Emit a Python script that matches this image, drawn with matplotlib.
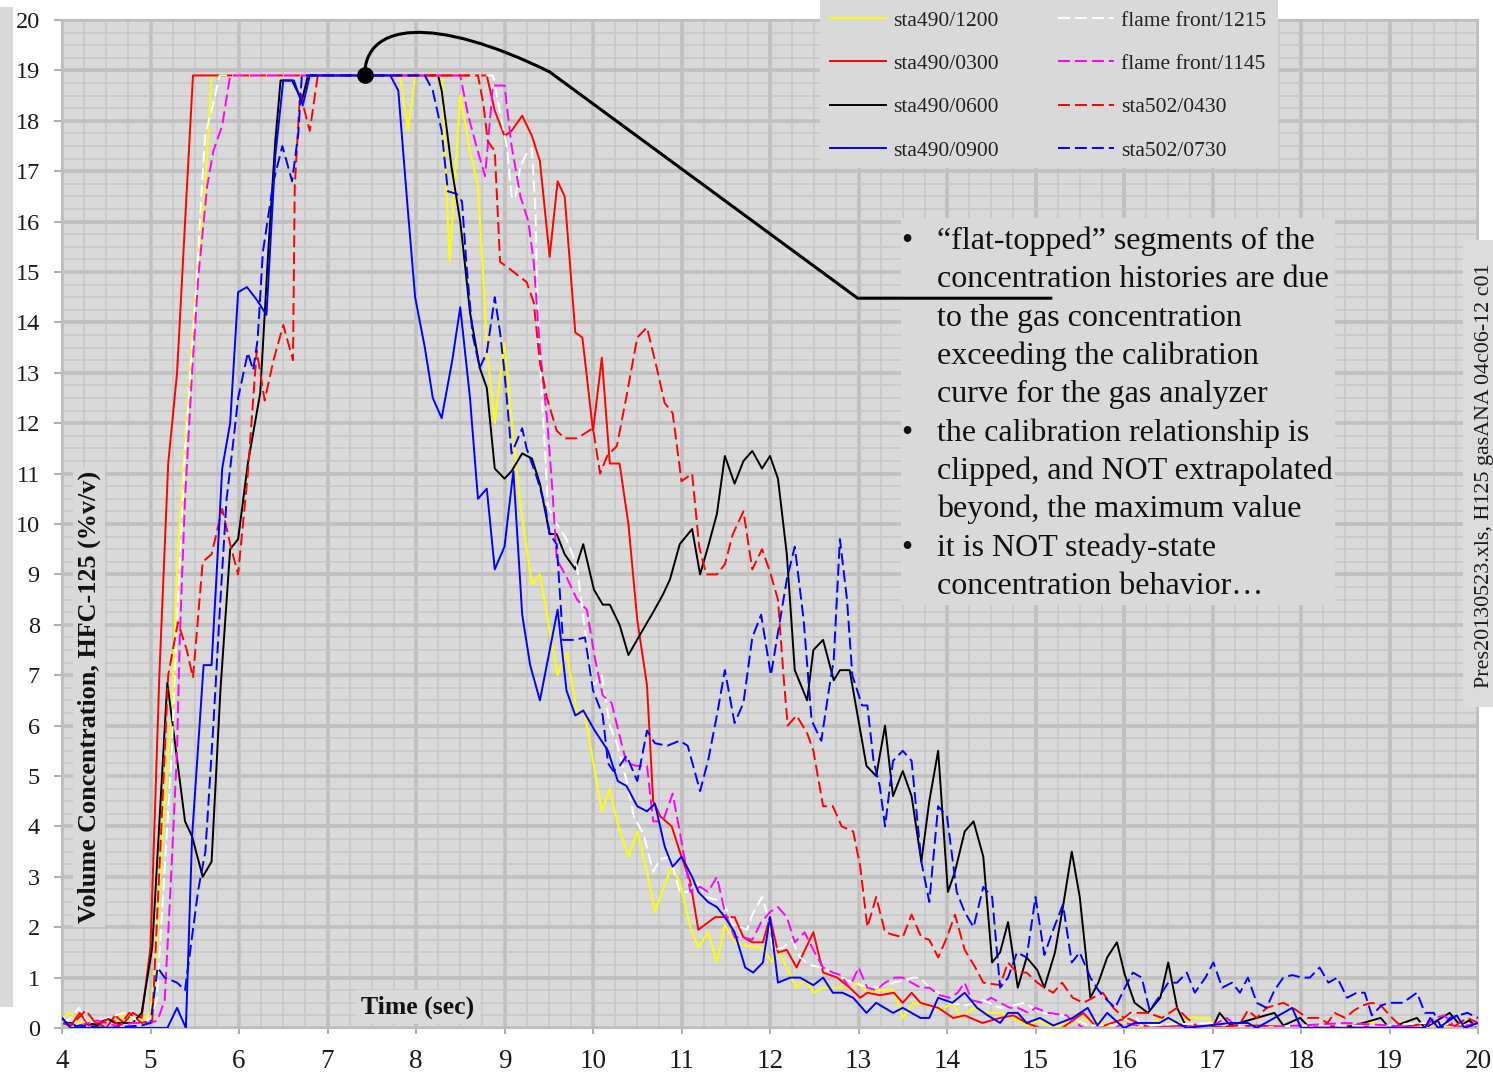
import numpy as np
import matplotlib
matplotlib.use('Agg')
import matplotlib.pyplot as plt
from matplotlib.patches import Rectangle, PathPatch
from matplotlib.path import Path

plt.rcParams['font.family'] = ['Liberation Serif', 'DejaVu Serif']
plt.rcParams['lines.scale_dashes'] = False

# ---------------- data (time s, concentration %v/v) ----------------
sta490_1200 = [(4.0,0.2),(4.1,0.3),(4.2,0.1),(4.3,0.15),(4.4,0.05),(4.5,0.2),(4.6,0.1),(4.7,0.3),(4.8,0.1),(4.9,0.15),
    (5.0,0.3),(5.07,1.65),(5.14,4.0),(5.24,6.3),(5.31,9.5),(5.41,12.2),(5.5,14.4),(5.62,16.7),(5.69,18.9),
    (7.82,18.9),(7.91,17.8),(7.99,18.9),(8.29,18.9),(8.38,15.2),(8.5,18.5),(8.61,17.4),(8.7,16.7),(8.75,15.2),
    (8.8,13.5),(8.89,12.0),(9.0,13.6),(9.08,12.1),(9.18,10.35),(9.31,8.8),(9.4,9.0),(9.49,8.1),(9.6,7.0),(9.7,7.45),
    (9.82,6.25),(9.9,6.3),(9.99,5.4),(10.1,4.3),(10.19,4.75),(10.28,4.05),(10.4,3.4),(10.5,3.9),(10.61,3.1),(10.7,2.3),
    (10.79,2.75),(10.89,3.2),(10.98,2.9),(11.1,2.0),(11.19,1.6),(11.3,1.9),(11.4,1.3),(11.49,2.05),(11.6,1.7),(11.7,1.65),
    (11.8,1.6),(11.92,1.6),(12.02,1.3),(12.09,1.55),(12.19,1.2),(12.3,0.8),(12.39,0.95),(12.5,0.7),(12.6,0.8),(12.76,0.8),
    (12.9,0.8),(13.0,0.9),(13.1,0.7),(13.24,0.75),(13.4,0.75),(13.5,0.2),(13.62,0.5),(13.8,0.45),(13.92,0.35),(14.07,0.5),
    (14.15,0.2),(14.3,0.4),(14.45,0.3),(14.6,0.3),(14.75,0.2),(14.9,0.05),(15.05,0.15),(15.2,0.0),(15.35,0.1),(15.5,0.15),
    (15.65,0.2),(15.8,0.05),(16.0,0.1),(16.2,0.0),(16.41,0.2),(16.6,0.1),(16.74,0.2),(16.82,0.2),(16.94,0.2),(17.05,0.0),
    (17.3,0.0),(17.6,0.05),(18.0,0.0),(18.4,0.0),(18.8,0.1),(19.0,0.0),(19.17,0.1),(19.4,0.0),(19.7,0.05),(20.0,0.0)]

sta490_0300 = [(4.0,0.1),(4.1,0.05),(4.2,0.3),(4.3,0.05),(4.4,0.1),(4.5,0.0),(4.6,0.25),(4.7,0.1),(4.8,0.3),(4.9,0.2),
    (5.0,1.6),(5.1,7.0),(5.2,11.2),(5.3,13.0),(5.4,16.3),(5.48,18.9),(8.8,18.9),(8.89,18.2),(9.0,17.7),(9.08,17.8),
    (9.2,18.1),(9.31,17.7),(9.4,17.2),(9.51,15.3),(9.6,16.8),(9.68,16.5),(9.8,13.8),(9.88,13.7),(10.0,11.85),(10.1,13.3),
    (10.19,11.2),(10.3,11.2),(10.4,10.0),(10.5,8.1),(10.61,6.8),(10.68,4.5),(10.76,4.2),(10.89,4.0),(10.98,3.5),(11.1,2.9),
    (11.19,1.95),(11.38,2.2),(11.6,2.2),(11.7,1.8),(11.8,1.7),(11.92,1.7),(12.0,2.2),(12.09,1.5),(12.19,1.55),(12.3,1.2),
    (12.49,1.9),(12.6,1.1),(12.76,1.0),(12.9,0.8),(13.02,0.6),(13.1,0.7),(13.24,0.65),(13.4,0.7),(13.5,0.5),(13.6,0.7),
    (13.7,0.5),(13.9,0.4),(14.07,0.2),(14.2,0.25),(14.4,0.1),(14.6,0.2),(14.75,0.25),(14.9,0.1),(15.05,0.0),(15.3,0.0),
    (15.54,0.3),(15.7,0.0),(16.03,0.2),(16.3,0.0),(16.6,0.05),(17.0,0.0),(17.5,0.05),(18.0,0.0),(18.5,0.05),(19.0,0.0),
    (19.5,0.1),(20.0,0.0)]

sta490_0600 = [(4.0,0.1),(4.1,0.1),(4.2,0.0),(4.3,0.1),(4.4,0.05),(4.5,0.2),(4.6,0.1),(4.7,0.1),(4.8,0.1),(4.9,0.3),
    (5.02,1.6),(5.19,6.85),(5.39,4.1),(5.47,3.8),(5.59,3.0),(5.69,3.3),(5.79,6.7),(5.9,9.5),(5.99,9.7),(6.1,11.2),
    (6.24,12.6),(6.33,15.4),(6.41,17.6),(6.47,18.8),(6.6,18.8),(6.71,18.4),(6.78,18.9),(8.25,18.9),(8.29,18.6),(8.35,17.8),
    (8.4,17.1),(8.5,16.0),(8.55,15.2),(8.61,14.2),(8.72,13.1),(8.8,12.7),(8.89,11.1),(9.0,10.9),(9.08,11.05),(9.2,11.4),
    (9.31,11.3),(9.4,10.8),(9.51,9.8),(9.59,9.8),(9.68,9.4),(9.8,9.1),(9.89,9.6),(10.01,8.7),(10.11,8.4),(10.19,8.4),
    (10.3,8.0),(10.4,7.4),(10.53,7.8),(10.68,8.25),(10.79,8.6),(10.87,8.9),(10.98,9.6),(11.12,9.9),(11.21,9.0),(11.3,9.55),
    (11.4,10.2),(11.49,11.35),(11.6,10.8),(11.7,11.25),(11.8,11.45),(11.91,11.1),(12.0,11.35),(12.09,10.9),(12.19,9.4),
    (12.28,7.1),(12.42,6.5),(12.49,7.5),(12.6,7.7),(12.72,6.9),(12.79,7.1),(12.9,7.1),(13.09,5.2),(13.2,5.0),(13.3,6.0),
    (13.39,4.6),(13.5,5.1),(13.6,4.6),(13.71,3.3),(13.8,4.5),(13.9,5.5),(14.01,2.7),(14.09,3.1),(14.2,3.9),(14.3,4.1),
    (14.41,3.4),(14.51,1.3),(14.6,1.5),(14.69,2.1),(14.8,0.8),(14.9,1.4),(15.02,1.15),(15.1,0.8),(15.22,1.5),(15.31,2.4),
    (15.41,3.5),(15.5,2.6),(15.62,0.6),(15.71,0.9),(15.81,1.4),(15.92,1.7),(16.01,1.05),(16.12,0.5),(16.27,0.3),(16.41,0.6),
    (16.5,1.3),(16.6,0.4),(16.71,0.0),(17.0,0.0),(17.08,0.3),(17.2,0.05),(17.5,0.2),(17.7,0.3),(17.8,0.05),(17.99,0.2),
    (18.1,0.0),(18.5,0.0),(18.9,0.2),(19.0,0.0),(19.31,0.2),(19.4,0.0),(19.68,0.3),(19.8,0.05),(19.9,0.15),(20.0,0.0)]

sta490_0900 = [(4.0,0.2),(4.1,0.0),(5.19,0.0),(5.3,0.4),(5.4,0.0),(5.47,3.8),(5.6,7.2),(5.69,7.2),(5.75,9.1),(5.81,11.1),
    (5.9,12.0),(5.99,14.6),(6.09,14.7),(6.2,14.45),(6.31,14.15),(6.41,17.3),(6.5,18.8),(6.62,18.8),(6.72,18.3),(6.8,18.9),
    (7.71,18.9),(7.8,18.6),(7.9,16.4),(7.99,14.5),(8.1,13.5),(8.19,12.5),(8.29,12.1),(8.41,13.25),(8.5,14.3),(8.61,12.5),
    (8.7,10.5),(8.8,10.7),(8.89,9.1),(9.0,9.55),(9.1,11.05),(9.2,8.2),(9.29,7.2),(9.4,6.5),(9.6,8.3),(9.7,6.7),(9.8,6.2),
    (9.89,6.3),(10.02,5.9),(10.17,5.5),(10.28,4.9),(10.38,4.8),(10.5,4.4),(10.61,4.3),(10.7,4.45),(10.81,3.6),(10.9,3.2),
    (11.0,3.4),(11.12,3.0),(11.19,2.7),(11.3,2.5),(11.4,2.4),(11.49,2.2),(11.6,1.9),(11.72,1.2),(11.81,1.1),(11.92,1.3),
    (12.0,2.2),(12.09,0.9),(12.23,1.0),(12.34,1.0),(12.49,0.85),(12.6,1.0),(12.71,0.7),(12.82,0.7),(12.94,0.6),(13.09,0.3),
    (13.2,0.5),(13.39,0.3),(13.5,0.4),(13.7,0.2),(13.8,0.2),(13.9,0.6),(14.06,0.5),(14.2,0.7),(14.34,0.4),(14.46,0.25),
    (14.6,0.1),(14.69,0.3),(14.8,0.3),(14.9,0.1),(15.05,0.2),(15.2,0.05),(15.42,0.2),(15.59,0.4),(15.7,0.05),(15.81,0.3),
    (16.0,0.0),(16.12,0.1),(16.4,0.1),(16.5,0.2),(16.71,0.0),(17.2,0.1),(17.4,0.1),(17.5,0.0),(17.9,0.4),(18.0,0.0),
    (19.4,0.0),(19.46,0.2),(19.55,0.0),(19.76,0.25),(19.85,0.0),(20.0,0.1)]

flame_1215 = [(4.0,0.1),(4.1,0.2),(4.19,0.4),(4.3,0.1),(4.5,0.2),(4.7,0.3),(4.9,0.1),(5.0,0.2),(5.07,0.55),(5.14,2.55),
    (5.24,5.5),(5.31,8.5),(5.39,11.45),(5.47,13.45),(5.54,15.4),(5.58,16.7),(5.62,17.75),(5.69,18.2),(5.78,18.9),(8.87,18.9),
    (8.98,17.9),(9.03,17.45),(9.08,16.5),(9.12,16.45),(9.18,17.1),(9.25,17.35),(9.31,17.45),(9.35,16.2),(9.37,14.6),(9.4,13.2),
    (9.46,11.4),(9.49,10.35),(9.59,10.0),(9.7,9.7),(9.82,9.15),(9.9,8.0),(10.0,6.8),(10.1,7.0),(10.19,6.0),(10.27,5.65),
    (10.38,4.9),(10.46,4.2),(10.57,3.85),(10.68,3.1),(10.76,3.35),(10.87,3.4),(10.98,2.7),(11.07,2.7),(11.17,2.9),(11.28,2.6),
    (11.47,2.5),(11.58,2.05),(11.74,1.95),(11.8,2.25),(11.91,2.6),(11.98,2.2),(12.03,1.55),(12.15,1.6),(12.25,1.75),(12.34,1.4),
    (12.45,1.25),(12.58,1.2),(12.71,1.1),(12.87,0.95),(13.02,0.85),(13.2,0.8),(13.4,0.9),(13.62,1.0),(13.7,1.0),(13.8,0.8),
    (13.9,0.7),(14.03,0.5),(14.22,0.45),(14.41,0.55),(14.6,0.4),(14.75,0.45),(14.88,0.5),(15.05,0.3),(15.3,0.25),(15.42,0.2),
    (15.6,0.05),(15.9,0.05),(16.03,0.2),(16.1,0.3),(16.2,0.05),(17.0,0.1),(17.5,0.0),(18.0,0.05),(19.0,0.05),(19.4,0.1),(20.0,0.05)]

flame_1145 = [(4.0,0.1),(4.2,0.05),(4.4,0.15),(4.6,0.05),(4.8,0.1),(5.0,0.1),(5.08,0.15),(5.16,0.55),(5.22,2.55),(5.3,5.5),
    (5.33,7.7),(5.39,10.5),(5.47,13.0),(5.54,14.9),(5.64,16.7),(5.71,17.4),(5.81,17.9),(5.9,18.9),(8.5,18.9),(8.59,18.1),
    (8.69,17.45),(8.78,16.9),(8.87,18.7),(9.0,18.7),(9.08,17.5),(9.18,16.5),(9.27,16.0),(9.33,15.2),(9.4,13.5),(9.48,12.1),
    (9.54,10.7),(9.59,9.3),(9.7,8.95),(9.82,8.5),(9.93,8.3),(10.02,7.35),(10.11,6.6),(10.21,6.45),(10.3,5.8),(10.38,5.25),
    (10.5,5.2),(10.61,5.2),(10.68,4.1),(10.79,4.1),(10.9,4.65),(10.98,3.9),(11.1,2.7),(11.21,2.8),(11.3,2.7),(11.4,3.0),
    (11.49,2.3),(11.6,1.8),(11.7,1.8),(11.8,1.75),(11.9,2.1),(12.0,2.3),(12.09,2.4),(12.19,2.2),(12.28,1.7),(12.39,1.9),
    (12.49,1.55),(12.6,1.2),(12.71,1.1),(12.8,1.05),(12.9,0.8),(13.0,1.2),(13.1,0.8),(13.2,0.75),(13.3,0.9),(13.41,1.0),
    (13.5,1.0),(13.6,0.9),(13.7,0.8),(13.8,0.8),(13.92,0.65),(14.03,0.6),(14.12,0.7),(14.2,0.9),(14.28,0.55),(14.4,0.5),
    (14.5,0.6),(14.6,0.5),(14.71,0.4),(14.8,0.4),(14.92,0.3),(15.0,0.4),(15.15,0.3),(15.35,0.25),(15.45,0.1),(15.55,0.0),
    (15.9,0.0),(16.0,0.1),(16.3,0.0),(17.0,0.05),(17.16,0.2),(17.3,0.0),(18.0,0.05),(18.5,0.1),(19.0,0.05),(19.4,0.0),
    (19.5,0.2),(19.62,0.25),(19.75,0.0),(20.0,0.1)]

sta502_0430 = [(4.0,0.1),(4.1,0.05),(4.27,0.35),(4.4,0.05),(4.54,0.2),(4.65,0.05),(4.76,0.3),(4.9,0.1),(5.02,0.15),(5.11,3.5),
    (5.2,7.0),(5.31,8.05),(5.41,7.5),(5.48,6.95),(5.59,9.25),(5.69,9.4),(5.81,10.3),(5.9,9.6),(5.99,9.0),(6.1,11.0),
    (6.2,13.45),(6.29,12.45),(6.39,13.25),(6.5,13.95),(6.61,13.25),(6.63,16.7),(6.69,18.55),(6.8,17.8),(6.89,18.9),(8.7,18.9),
    (8.76,18.35),(8.81,17.6),(8.89,17.4),(8.95,15.2),(9.03,15.1),(9.14,14.95),(9.25,14.8),(9.33,14.4),(9.4,13.2),(9.48,12.5),
    (9.59,11.85),(9.68,11.7),(9.82,11.7),(10.0,11.9),(10.08,11.0),(10.16,11.35),(10.27,11.55),(10.38,12.55),(10.5,13.7),
    (10.61,13.9),(10.72,13.1),(10.81,12.4),(10.9,12.2),(11.0,10.85),(11.12,11.0),(11.2,9.55),(11.28,9.0),(11.4,9.0),
    (11.49,9.2),(11.58,9.8),(11.7,10.25),(11.8,9.1),(11.91,9.5),(12.0,9.05),(12.09,8.5),(12.15,7.05),(12.2,6.0),(12.3,6.2),
    (12.42,5.85),(12.49,5.5),(12.6,4.4),(12.71,4.4),(12.81,4.0),(12.94,3.9),(13.02,3.2),(13.1,2.0),(13.2,2.6),(13.3,1.9),
    (13.39,1.85),(13.5,1.8),(13.6,2.25),(13.71,1.8),(13.8,1.75),(13.9,1.4),(14.0,1.8),(14.09,2.25),(14.2,1.55),(14.32,1.2),
    (14.41,0.9),(14.6,0.85),(14.69,1.3),(14.79,1.1),(14.9,1.1),(15.02,0.9),(15.1,0.8),(15.2,0.7),(15.3,0.9),(15.42,0.6),
    (15.54,0.5),(15.65,0.6),(15.76,0.7),(15.88,0.4),(16.0,0.2),(16.07,0.3),(16.27,0.3),(16.43,0.2),(16.6,0.4),(16.71,0.2),
    (16.85,0.0),(17.3,0.05),(17.4,0.35),(17.5,0.2),(17.61,0.4),(17.8,0.5),(17.91,0.4),(18.07,0.2),(18.2,0.2),(18.3,0.1),
    (18.38,0.3),(18.5,0.2),(18.6,0.35),(18.7,0.45),(18.8,0.5),(18.9,0.45),(19.03,0.2),(19.15,0.0),(19.7,0.0),(19.88,0.2),(20.0,0.1)]

sta502_0730 = [(4.0,0.2),(4.1,0.0),(4.2,0.05),(4.5,0.0),(4.9,0.05),(5.0,0.1),(5.08,1.2),(5.16,1.0),(5.3,0.9),(5.39,0.75),
    (5.54,2.75),(5.62,3.5),(5.71,6.0),(5.79,8.5),(5.86,10.5),(5.94,11.7),(5.99,12.5),(6.1,13.4),(6.16,13.05),(6.21,13.65),
    (6.27,15.4),(6.33,16.1),(6.39,16.8),(6.49,17.5),(6.6,16.8),(6.67,17.75),(6.71,18.9),(8.1,18.9),(8.19,18.6),(8.29,17.8),
    (8.36,16.6),(8.46,16.55),(8.52,16.4),(8.57,15.15),(8.64,13.75),(8.72,13.1),(8.8,13.4),(8.89,14.5),(8.95,13.8),(9.0,13.0),
    (9.08,11.4),(9.2,11.9),(9.25,11.5),(9.37,10.9),(9.46,10.35),(9.51,9.8),(9.59,9.6),(9.66,7.7),(9.8,7.7),(9.91,7.75),
    (10.0,6.7),(10.11,6.2),(10.17,5.25),(10.23,5.1),(10.3,5.2),(10.38,5.4),(10.5,4.9),(10.61,5.9),(10.7,5.65),(10.84,5.6),
    (10.98,5.7),(11.07,5.6),(11.21,4.7),(11.3,5.3),(11.4,6.2),(11.49,7.1),(11.6,6.05),(11.7,6.45),(11.8,7.75),(11.9,8.2),
    (12.01,7.0),(12.1,7.95),(12.19,8.9),(12.28,9.55),(12.38,8.1),(12.47,6.1),(12.58,5.7),(12.66,6.65),(12.72,7.3),(12.79,9.7),
    (12.87,8.5),(12.93,7.0),(13.04,6.4),(13.1,6.4),(13.17,5.3),(13.24,4.8),(13.3,4.0),(13.39,5.3),(13.5,5.5),(13.6,5.3),
    (13.71,3.3),(13.8,2.5),(13.9,4.4),(14.0,4.2),(14.11,2.7),(14.2,2.3),(14.3,2.0),(14.41,2.8),(14.51,2.6),(14.6,0.8),
    (14.69,1.0),(14.79,1.5),(14.9,1.4),(15.0,2.6),(15.1,1.45),(15.2,1.95),(15.31,2.45),(15.41,1.3),(15.5,1.5),(15.62,1.0),
    (15.71,0.75),(15.81,0.55),(15.9,0.4),(16.01,0.8),(16.1,1.1),(16.2,1.0),(16.29,0.35),(16.39,0.6),(16.5,0.9),(16.6,0.9),
    (16.71,1.1),(16.8,0.7),(16.92,1.0),(17.01,1.3),(17.11,0.8),(17.22,0.9),(17.31,0.7),(17.4,1.0),(17.5,0.5),(17.61,0.4),
    (17.7,0.75),(17.8,1.0),(17.9,1.05),(18.01,1.0),(18.1,1.0),(18.21,1.2),(18.31,0.9),(18.41,1.0),(18.52,0.6),(18.63,0.7),
    (18.72,0.7),(18.8,0.25),(18.91,0.45),(19.0,0.5),(19.15,0.5),(19.31,0.7),(19.4,0.3),(19.5,0.3),(19.59,0.0),(19.68,0.2),
    (19.78,0.25),(19.88,0.3),(20.0,0.2)]

x_ticks = list(range(4, 21))
y_ticks = list(range(0, 21))

bullet_lines = [
    ("\u2022", "\u201cflat-topped\u201d segments of the"),
    ("", "concentration histories are due"),
    ("", "to the gas concentration"),
    ("", "exceeding the calibration"),
    ("", "curve for the gas analyzer"),
    ("\u2022", "the calibration relationship is"),
    ("", "clipped, and NOT extrapolated"),
    ("", "beyond, the maximum value"),
    ("\u2022", "it is NOT steady-state"),
    ("", "concentration behavior\u2026"),
]

# ---------------- figure ----------------
W, H = 1493, 1077
fig = plt.figure(figsize=(W / 100, H / 100), dpi=100)
fig.patch.set_facecolor('white')

def fx(x):
    return x / W

def fy(y):
    return 1 - y / H

ax = fig.add_axes([fx(62), fy(1028), (1478 - 62) / W, (1028 - 20) / H])
ax.set_facecolor('#d9d9d9')
ax.set_axisbelow(True)

dash = (0, (8.6, 3.6))
series = [
    ('sta490/1200', sta490_1200, '#ffff00', '-', 2.0),
    ('sta490/0300', sta490_0300, '#ff0000', '-', 2.1),
    ('sta490/0600', sta490_0600, '#000000', '-', 2.2),
    ('sta490/0900', sta490_0900, '#0000ff', '-', 2.9),
    ('flame front/1215', flame_1215, '#ffffff', dash, 2.3),
    ('flame front/1145', flame_1145, '#ff00ff', dash, 2.4),
    ('sta502/0430', sta502_0430, '#ff0000', dash, 2.5),
    ('sta502/0730', sta502_0730, '#0000ff', dash, 2.6),
]
handles = []
for name, pts, col, ls, z in series:
    t, v = zip(*pts)
    ln, = ax.plot(t, v, color=col, ls=ls, lw=1.4, label=name, zorder=z)
    handles.append(ln)

ax.set_xlim(4, 20)
ax.set_ylim(0, 20)
ax.set_xticks(x_ticks)
ax.set_yticks(y_ticks)
ax.set_xticks(np.arange(4, 20.001, 0.25), minor=True)
ax.set_yticks(np.arange(0, 20.001, 0.25), minor=True)
ax.grid(which='major', color='#c0c0c0', lw=2.6)
ax.grid(which='minor', color='#c6c6c6', lw=1.1)
ax.tick_params(which='minor', length=0)
ax.tick_params(axis='y', which='major', length=6, width=1.3, color='#a8a8a8',
               labelsize=17.5, labelcolor='#1a1a1a', pad=10)
ax.tick_params(axis='x', which='major', length=4, width=1.3, color='#a8a8a8',
               labelsize=19.5, labelcolor='#1a1a1a', pad=11)
for s in ax.spines.values():
    s.set_color('#bdbdbd')
    s.set_linewidth(1.5)

# axis titles placed inside the plot with background boxes
ax.text(fx(89), fy(697), 'Volume Concentration, HFC-125 (%v/v)', transform=fig.transFigure,
        rotation=90, ha='center', va='center', fontsize=18.8, fontweight='bold', color='#111111',
        zorder=6, bbox=dict(facecolor='#d9d9d9', edgecolor='none', pad=3))
ax.text(fx(418), fy(1007), 'Time (sec)', transform=fig.transFigure,
        ha='center', va='center', fontsize=18.5, fontweight='bold', color='#111111',
        zorder=6, bbox=dict(facecolor='#d9d9d9', edgecolor='none', pad=4))

# legend (top, partially cut off)
leg_bg = Rectangle((fx(820), fy(168)), (1278 - 820) / W, 168 / H, transform=fig.transFigure,
                   facecolor='#d9d9d9', edgecolor='none', zorder=4.5, clip_on=False)
ax.add_artist(leg_bg)
leg = ax.legend(handles=handles, ncol=2, loc='upper left', bbox_to_anchor=(fx(830), fy(10.5)),
                bbox_transform=fig.transFigure, frameon=False, fontsize=15.5,
                handlelength=2.6, handletextpad=0.35, columnspacing=2.72, labelspacing=1.08,
                borderpad=0, borderaxespad=0)
for txt in leg.get_texts():
    txt.set_color('#222222')

# annotation text box
box = Rectangle((fx(901), fy(605)), (1335 - 901) / W, (605 - 218) / H, transform=fig.transFigure,
                facecolor='#d9d9d9', edgecolor='none', zorder=6, clip_on=False)
ax.add_artist(box)
for i, (b, line) in enumerate(bullet_lines):
    base = 249 + 38.35 * i
    if b:
        ax.text(fx(901), fy(base), b, transform=fig.transFigure, fontsize=23, va='baseline',
                ha='left', color='#111111', zorder=7)
    ax.text(fx(937), fy(base), line, transform=fig.transFigure, fontsize=23, va='baseline',
            ha='left', color='#111111', zorder=7)

# callout from the flat-topped segment to the note
call_dot = (7.42, 18.9)
call_pts = [call_dot, (7.42, 19.95), (8.2, 20.1), (9.51, 18.97), (12.99, 14.48), (15.19, 14.48)]
codes = [Path.MOVETO, Path.CURVE4, Path.CURVE4, Path.CURVE4, Path.LINETO, Path.LINETO]
ax.add_patch(PathPatch(Path(call_pts, codes), fill=False, lw=2.2, ec='black', zorder=8, clip_on=False))
ax.plot([call_dot[0]], [call_dot[1]], 'o', ms=11, color='black', zorder=9, clip_on=False)
ax.set_xlim(4, 20)
ax.set_ylim(0, 20)

# side decorations
fig.add_artist(Rectangle((fx(0), fy(1007)), 13 / W, 1000 / H, transform=fig.transFigure,
                         facecolor='#d9d9d9', edgecolor='none', zorder=3))
fig.add_artist(Rectangle((fx(1463), fy(707)), 30 / W, (707 - 240) / H, transform=fig.transFigure,
                         facecolor='#dcdcdc', edgecolor='none', zorder=3))
fig.text(fx(1484), fy(476), 'Pres20130523.xls, H125 gasANA 04c06-12 c01', rotation=90,
         ha='center', va='center', fontsize=15.8, color='#1a1a1a', zorder=4)

fig.savefig('out.png', dpi=100, facecolor='white')
